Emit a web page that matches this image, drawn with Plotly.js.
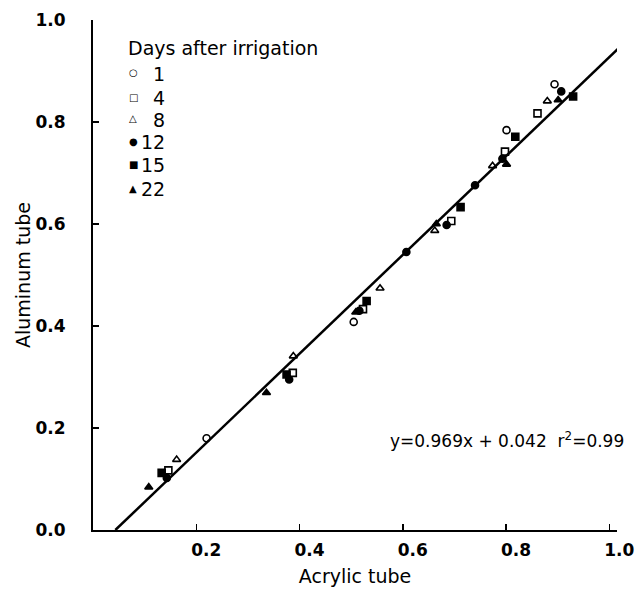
<!DOCTYPE html>
<html><head><meta charset="utf-8">
<script src="https://cdn.plot.ly/plotly-3.0.1.min.js"></script>
<style>html,body{margin:0;padding:0;background:#fff}#chart{width:635px;height:603px}</style>
</head><body><div id="chart"></div>
<script>
// Data
const day1_x  = [0.220, 0.505, 0.801, 0.894];
const day1_y  = [0.180, 0.408, 0.784, 0.874];
const day4_x  = [0.146, 0.387, 0.523, 0.694, 0.798, 0.861];
const day4_y  = [0.117, 0.308, 0.433, 0.606, 0.742, 0.817];
const day8_x  = [0.162, 0.388, 0.556, 0.662, 0.774, 0.880];
const day8_y  = [0.138, 0.341, 0.474, 0.587, 0.714, 0.841];
const day12_x = [0.143, 0.380, 0.516, 0.607, 0.685, 0.740, 0.793, 0.907];
const day12_y = [0.102, 0.295, 0.430, 0.545, 0.598, 0.676, 0.728, 0.860];
const day15_x = [0.133, 0.375, 0.530, 0.712, 0.818, 0.930];
const day15_y = [0.112, 0.305, 0.449, 0.633, 0.771, 0.850];
const day22_x = [0.108, 0.336, 0.509, 0.665, 0.801, 0.901];
const day22_y = [0.084, 0.269, 0.427, 0.600, 0.717, 0.843];
const seriesNames = ["1", "4", "8", "12", "15", "22"];
const legendTitle = "Days after irrigation";
const fitSlope = 0.969, fitIntercept = -0.042;
const fitX = [0.0433, 1.05];
const fitLabel = "y=0.969x + 0.042  r<sup>2</sup>=0.99";
const xTicks = [0.2, 0.4, 0.6, 0.8, 1.0];
const xTickText = ["0.2", "0.4", "0.6", "0.8", "1.0"];
const yTicks = [0, 0.2, 0.4, 0.6, 0.8, 1.0];
const yTickText = ["0.0", "0.2", "0.4", "0.6", "0.8", "1.0"];

const symbols = ["circle-open", "square-open", "triangle-up-open", "circle", "square", "triangle-up"];
const glyphs  = ["\u25CB", "\u25A1", "\u25B3", "\u25CF", "\u25A0", "\u25B2"];
const xs = [day1_x, day4_x, day8_x, day12_x, day15_x, day22_x];
const ys = [day1_y, day4_y, day8_y, day12_y, day15_y, day22_y];

const FONT = "DejaVu Sans, Verdana, sans-serif";
const traces = [];
for (let i = 0; i < 6; i++) {
  traces.push({
    type: "scatter", mode: "markers", name: seriesNames[i],
    x: xs[i], y: ys[i],
    marker: {symbol: symbols[i], size: 7, color: "#000", line: {color: "#000", width: 1.6}},
    cliponaxis: false, showlegend: false
  });
}
traces.push({
  type: "scatter", mode: "lines", showlegend: false,
  x: fitX, y: fitX.map(v => fitSlope * v + fitIntercept),
  line: {color: "#000", width: 2.5}
});

// pixel -> paper helpers for placing the hand-drawn legend
const L = 93, R = 18, T = 20, B = 73, W = 635, H = 603;
const px = p => (p - L) / (W - L - R);
const py = p => (H - B - p) / (H - T - B);

const annotations = [
  {xref: "paper", yref: "paper", x: px(126), y: py(48), xanchor: "left", yanchor: "middle",
   text: legendTitle, showarrow: false, font: {family: FONT, size: 19, color: "#000"}},
  {xref: "x", yref: "y", x: 0.802, y: 0.177, xanchor: "center", yanchor: "middle",
   text: fitLabel, showarrow: false, font: {family: FONT, size: 17, color: "#000"}}
];
const rowY = [73, 97, 119, 141, 164, 188];
for (let i = 0; i < 6; i++) {
  annotations.push({xref: "paper", yref: "paper", x: px(133), y: py(rowY[i]), xanchor: "center", yanchor: "middle",
    text: glyphs[i], showarrow: false, font: {family: FONT, size: 10, color: "#000"}});
  annotations.push({xref: "paper", yref: "paper", x: px(167), y: py(rowY[i] + 1), xanchor: "right", yanchor: "middle",
    text: seriesNames[i], showarrow: false, font: {family: FONT, size: 19, color: "#000"}});
}

const layout = {
  width: W, height: H,
  margin: {l: L, r: R, t: T, b: B},
  paper_bgcolor: "#fff", plot_bgcolor: "#fff",
  font: {family: FONT, color: "#000"},
  showlegend: false,
  xaxis: {
    range: [0, 1.015], showgrid: false, zeroline: false,
    showline: true, linecolor: "#000", linewidth: 2,
    ticks: "inside", ticklen: 6, tickwidth: 1.5, tickcolor: "#000",
    tickvals: xTicks, ticktext: xTickText, ticklabelshift: 10, ticklabelstandoff: 4,
    tickfont: {family: FONT, size: 17, color: "#000", weight: "bold"},
    title: {text: "Acrylic tube", font: {family: FONT, size: 19, color: "#000"}, standoff: 10}
  },
  yaxis: {
    range: [0, 1.0], showgrid: false, zeroline: false,
    showline: true, linecolor: "#000", linewidth: 2,
    ticks: "inside", ticklen: 6, tickwidth: 1.5, tickcolor: "#000",
    tickvals: yTicks, ticktext: yTickText, ticklabelstandoff: 22,
    tickfont: {family: FONT, size: 17, color: "#000", weight: "bold"},
    title: {text: "Aluminum tube", font: {family: FONT, size: 19, color: "#000"}, standoff: 0}
  },
  annotations: annotations
};

Plotly.newPlot("chart", traces, layout, {displayModeBar: false, staticPlot: true});
</script>
</body></html>
